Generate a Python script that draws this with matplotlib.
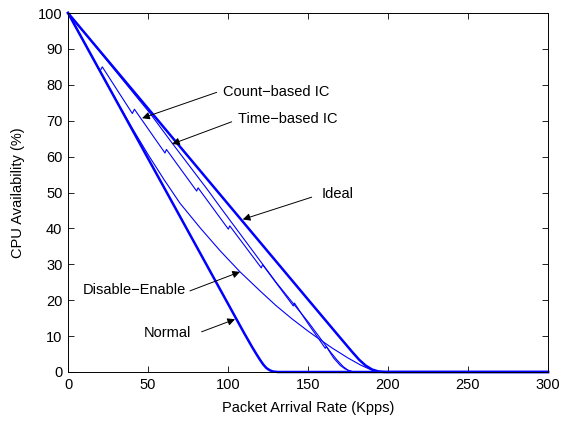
import numpy as np
import matplotlib
matplotlib.use('Agg')
import matplotlib.pyplot as plt

plt.rcParams['font.family'] = ['Liberation Sans', 'DejaVu Sans']
plt.rcParams['font.size'] = 10.5

# values (x = Kpps, y = CPU availability %)
normal_x = [0, 20, 40, 60, 80, 100, 110, 115, 118, 120, 122, 124, 126, 128, 131, 300]
normal_y = [100, 83.8, 67.6, 51.4, 35.2, 19.0, 10.9, 7.0, 4.8, 3.4, 2.1, 1.1, 0.5, 0.15, 0, 0]

ideal_x = [0, 50, 100, 150, 170, 178, 182, 186, 190, 194, 198, 300]
ideal_y = [100, 73.4, 46.8, 20.2, 9.6, 5.4, 3.4, 1.8, 0.7, 0.15, 0, 0]

count_x = [0, 10, 20, 21.4, 40.2, 41.5, 60.6, 61.5, 80.4, 81.3, 100.2, 101.1,
           120.8, 121.6, 140.8, 141.5, 150, 160.8, 161.4, 166, 170, 173, 176, 179, 300]
count_y = [100, 91.9, 83.8, 85.0, 72.0, 73.2, 61.0, 62.0, 50.4, 51.3, 39.8, 40.7,
           29.0, 29.9, 18.4, 19.2, 13.5, 6.6, 7.1, 3.9, 1.9, 0.9, 0.3, 0, 0]

time_x = [0, 20, 40, 51, 65, 80, 87, 96, 100, 110, 120, 130, 140, 150, 158, 164, 168, 172, 175, 178, 181, 300]
time_y = [100, 89.2, 78.2, 72.2, 63.8, 55.0, 50.9, 45.4, 43.0, 37.0, 31.0, 25.0, 19.5, 14.0, 9.2, 5.6, 3.4, 1.5, 0.5, 0.05, 0, 0]

de_x = [0, 10, 20, 30, 40, 50, 60, 70, 82.5, 95, 107.5, 120, 130, 140, 150, 155, 165, 175, 183, 189, 194, 198, 300]
de_y = [100, 91.9, 83.8, 75.8, 68.0, 60.6, 53.6, 47.0, 40.2, 33.8, 27.9, 22.6, 18.5, 14.8, 11.4, 9.8, 6.7, 3.9, 1.9, 0.7, 0.1, 0, 0]

xticks = [0, 50, 100, 150, 200, 250, 300]
yticks = [0, 10, 20, 30, 40, 50, 60, 70, 80, 90, 100]

fig = plt.figure(figsize=(5.65, 4.21), dpi=100)
ax = fig.add_subplot(1, 1, 1)
fig.subplots_adjust(left=0.1204, right=0.9699, bottom=0.1164, top=0.9691)

blue = '#0000FF'
ax.plot(de_x, de_y, color=blue, lw=0.8, clip_on=False)
ax.plot(time_x, time_y, color=blue, lw=0.8, clip_on=False)
ax.plot(count_x, count_y, color=blue, lw=0.8, clip_on=False)
ax.plot(normal_x, normal_y, color=blue, lw=1.8, clip_on=False)
ax.plot(ideal_x, ideal_y, color=blue, lw=1.8, clip_on=False)

# labels with arrows
notes = [
    ('Count\u2212based IC', (96.7, 77.9), (92.9, 77.9), (46.3, 70.7)),
    ('Time\u2212based IC', (106.4, 70.4), (102.3, 69.7), (65.0, 63.5)),
    ('Ideal', (158.5, 49.6), (152.3, 48.7), (109.2, 42.5)),
    ('Disable\u2212Enable', (9.2, 22.8), (76.2, 22.6), (107.5, 27.9)),
    ('Normal', (47.5, 10.8), (83.5, 11.2), (104.4, 14.7)),
]
for txt, tpos, start, tip in notes:
    ax.text(tpos[0], tpos[1], txt, ha='left', va='center')
    ax.annotate('', xy=tip, xytext=start,
                arrowprops=dict(arrowstyle='-|>', color='k', lw=0.7,
                                mutation_scale=11, shrinkA=0, shrinkB=0))

ax.set_xlim([0, 300])
ax.set_ylim([0, 100])
ax.set_xticks(xticks)
ax.set_yticks(yticks)
ax.tick_params(direction='in', top=True, right=True, length=4, width=0.6, pad=4)
for s in ax.spines.values():
    s.set_linewidth(0.7)

ax.set_xlabel('Packet Arrival Rate (Kpps)', labelpad=7)
ax.set_ylabel('CPU Availability (%)', labelpad=9)

plt.savefig('out.png', dpi=100)
